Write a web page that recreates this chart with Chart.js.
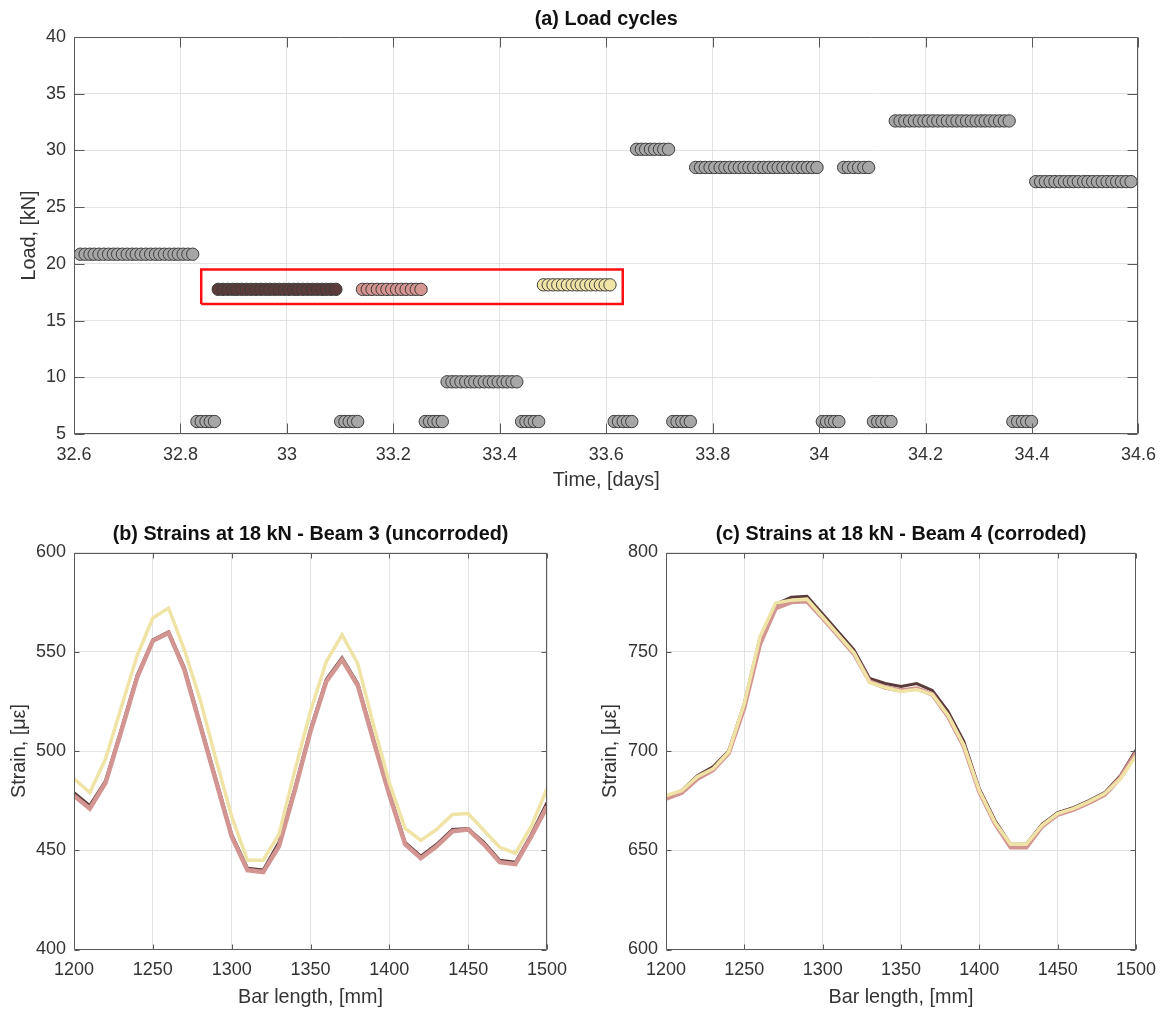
<!DOCTYPE html>
<html>
<head>
<meta charset="utf-8">
<script src="https://cdn.jsdelivr.net/npm/chart.js@4.4.0/dist/chart.umd.min.js"></script>
<style>
  body { margin: 0; background: #fff; }
  #wrap { position: relative; width: 1166px; height: 1009px; }
  canvas { position: absolute; }
</style>
</head>
<body>
<div id="wrap">
  <canvas id="cycles" width="1166" height="500" style="left:0;top:0"></canvas>
  <canvas id="beam3" width="583" height="509" style="left:0;top:500px"></canvas>
  <canvas id="beam4" width="583" height="509" style="left:583px;top:500px"></canvas>
</div>
<script>
// (a) load cycles, one time per marker
const cycleA = [32.871, 32.880, 32.889, 32.898, 32.906, 32.915, 32.924, 32.933, 32.942, 32.951, 32.960, 32.968, 32.977,
  32.986, 32.995, 33.004, 33.013, 33.021, 33.030, 33.039, 33.048, 33.057, 33.066, 33.074, 33.083, 33.092];
const cycleB = [33.142, 33.151, 33.160, 33.170, 33.179, 33.188, 33.197, 33.206, 33.215, 33.224, 33.234, 33.243, 33.252];
const cycleC = [33.482, 33.491, 33.500, 33.509, 33.518, 33.527, 33.536, 33.545, 33.553, 33.562, 33.571, 33.580, 33.589,
  33.598, 33.607];
const loadA = 17.75, loadB = 17.75, loadC = 18.15;

// other cycles (grey), one block per row
const otherTimes = [
  [32.612, 32.621, 32.630, 32.638, 32.647, 32.656, 32.665, 32.674, 32.682, 32.691, 32.700, 32.709, 32.717, 32.726,
   32.735, 32.744, 32.753, 32.761, 32.770, 32.779, 32.788, 32.796, 32.805, 32.814, 32.823],
  [32.831, 32.839, 32.848, 32.856, 32.864],
  [33.101, 33.109, 33.117, 33.125, 33.133],
  [33.260, 33.268, 33.276, 33.284, 33.292],
  [33.301, 33.310, 33.318, 33.327, 33.336, 33.345, 33.353, 33.362, 33.371, 33.380, 33.388, 33.397, 33.406, 33.414,
   33.423, 33.432],
  [33.441, 33.449, 33.457, 33.465, 33.473],
  [33.615, 33.623, 33.632, 33.640, 33.648],
  [33.657, 33.666, 33.674, 33.683, 33.691, 33.700, 33.708, 33.717],
  [33.725, 33.733, 33.742, 33.750, 33.758],
  [33.768, 33.777, 33.786, 33.795, 33.804, 33.814, 33.823, 33.832, 33.841, 33.850, 33.859, 33.868, 33.877, 33.887,
   33.896, 33.905, 33.914, 33.923, 33.932, 33.941, 33.950, 33.960, 33.969, 33.978, 33.987, 33.996],
  [34.006, 34.014, 34.022, 34.029, 34.037],
  [34.046, 34.055, 34.065, 34.074, 34.084, 34.093],
  [34.102, 34.110, 34.118, 34.127, 34.135],
  [34.143, 34.152, 34.161, 34.170, 34.179, 34.188, 34.197, 34.205, 34.214, 34.223, 34.232, 34.241, 34.250, 34.259,
   34.268, 34.277, 34.286, 34.295, 34.304, 34.312, 34.321, 34.330, 34.339, 34.348, 34.357],
  [34.364, 34.373, 34.382, 34.390, 34.399],
  [34.407, 34.416, 34.425, 34.434, 34.443, 34.452, 34.461, 34.470, 34.478, 34.487, 34.497, 34.505, 34.514, 34.523,
   34.532, 34.541, 34.550, 34.559, 34.568, 34.577, 34.586]
];
const otherLoads = [20.85, 6.1, 6.1, 6.1, 9.6, 6.1, 6.1, 30.1, 6.1, 28.5, 6.1, 28.5, 6.1, 32.6, 6.1, 27.25];

// red box round the three 18 kN blocks
const boxTime = [32.839, 33.631];
const boxLoad = [16.45, 19.5];

// (b), (c) strains along the bar
const barLength = [1200, 1210, 1220, 1230, 1240, 1250, 1260, 1270, 1280, 1290, 1300, 1310, 1320, 1330, 1340, 1350,
  1360, 1370, 1380, 1390, 1400, 1410, 1420, 1430, 1440, 1450, 1460, 1470, 1480, 1490, 1500];
const beam3A = [479, 472.5, 485, 511, 538, 556, 560, 542, 514, 486, 458, 441, 440, 454, 481, 511,
  536, 547, 534, 506, 479, 454, 447, 453, 460.5, 461, 454, 445, 444, 458, 474];
const beam3B = [477.5, 471, 484, 510, 537, 555.5, 559.5, 541, 513, 485, 457, 440, 439, 452, 480, 510,
  535, 546, 533, 505, 478, 453, 446, 452, 459.5, 460.5, 453, 444, 443, 457, 472];
const beam3C = [486, 479, 496, 522, 548, 567, 572, 551, 526, 496, 467, 445, 445, 458, 490, 520,
  545, 558.5, 544, 513, 484, 461, 455, 460.5, 468, 468.5, 460, 451.5, 448.5, 462, 481];
const beam4A = [677, 680, 687.5, 692, 700, 724, 757, 774, 777.5, 778, 769, 760, 751, 736.5, 734, 732.5,
  734, 730.5, 720, 705, 681, 665, 653, 653, 663, 669, 671.5, 675, 679, 687.5, 700.5];
const beam4B = [676, 679, 686, 690.5, 699, 722, 754, 772, 775, 775.5, 767, 758, 749, 735, 732, 730.5,
  731.5, 728.5, 717.5, 702.5, 679.5, 663.5, 651.5, 651.5, 662, 668, 670.5, 674, 678, 686.5, 699];
const beam4C = [677.5, 680, 687, 691, 699.5, 724, 757.5, 774.5, 776, 776.5, 767.5, 758.5, 749.5, 734.5, 732, 730,
  731, 728.5, 718, 703, 680, 664, 653, 653, 662.5, 668.5, 671, 674.5, 678.5, 686, 697.5];

const FONT = '"Liberation Sans", Arial, Helvetica, sans-serif';
Chart.defaults.font.family = FONT;
Chart.defaults.color = '#333';
Chart.defaults.animation = false;

const colA = '#5c3c3a', colB = '#d4948f', colC = '#efe4a6';

// matlab style box: frame on four sides, inward ticks, bold title
const axesBox = {
  id: 'axesBox',
  afterDraw(chart, args, opts) {
    const { ctx, chartArea: a, scales } = chart;
    const l = Math.round(a.left) + 0.5, r = Math.round(a.right) - 0.5;
    const t = Math.round(a.top) + 0.5, b = Math.round(a.bottom) - 0.5;
    const len = opts.tickLen;
    ctx.save();
    ctx.strokeStyle = '#595959';
    ctx.lineWidth = 1;
    ctx.beginPath();
    scales.x.ticks.forEach((tk) => {
      const px = Math.round(scales.x.getPixelForValue(tk.value)) + 0.5;
      ctx.moveTo(px, b); ctx.lineTo(px, b - len);
      ctx.moveTo(px, t); ctx.lineTo(px, t + len);
    });
    scales.y.ticks.forEach((tk) => {
      const py = Math.round(scales.y.getPixelForValue(tk.value)) + 0.5;
      ctx.moveTo(l, py); ctx.lineTo(l + len, py);
      ctx.moveTo(r, py); ctx.lineTo(r - len, py);
    });
    ctx.rect(l, t, r - l, b - t);
    ctx.stroke();
    ctx.fillStyle = '#111';
    ctx.font = 'bold 19.8px ' + FONT;
    ctx.textAlign = 'center';
    ctx.textBaseline = 'middle';
    ctx.fillText(opts.text, (a.left + a.right) / 2, opts.titleY);
    ctx.restore();
  }
};

const gridColor = '#e3e3e3';

function axis(min, max, step, fmt, titleText, titlePad, tickPad, size, horizontal) {
  return {
    type: 'linear', min, max,
    grid: { color: gridColor, drawTicks: false },
    border: { display: false },
    ticks: { stepSize: step, padding: tickPad, font: { size: 18 }, color: '#333', callback: fmt, maxRotation: 0 },
    title: { display: true, text: titleText, font: { size: 19.8 }, color: '#333', padding: titlePad },
    afterFit: (s) => { if (horizontal) s.height = size; else s.width = size; }
  };
}

// (a)
const cycleSets = [];
cycleSets.push({
  type: 'line',
  data: [
    { x: boxTime[0], y: boxLoad[0] }, { x: boxTime[0], y: boxLoad[1] }, { x: boxTime[1], y: boxLoad[1] },
    { x: boxTime[1], y: boxLoad[0] }, { x: boxTime[0], y: boxLoad[0] }
  ],
  borderColor: '#ff1010', borderWidth: 2.5, pointRadius: 0, tension: 0, fill: false
});
const marker = (times, load, fill) => ({
  data: times.map((t) => ({ x: t, y: load })),
  backgroundColor: fill, borderColor: '#3d3d3d', borderWidth: 1, pointRadius: 6.2, pointHoverRadius: 6.2
});
otherTimes.forEach((times, i) => cycleSets.push(marker(times, otherLoads[i], '#a6a6a6')));
cycleSets.push(marker(cycleA, loadA, colA));
cycleSets.push(marker(cycleB, loadB, colB));
cycleSets.push(marker(cycleC, loadC, colC));

new Chart(document.getElementById('cycles'), {
  type: 'scatter',
  data: { datasets: cycleSets },
  options: {
    responsive: false,
    layout: { padding: { left: 0, right: 25, top: 37, bottom: 0 } },
    plugins: { legend: { display: false }, tooltip: { enabled: false },
      axesBox: { text: '(a) Load cycles', titleY: 20, tickLen: 10 } },
    scales: {
      x: axis(32.6, 34.6, 0.2, (v) => String(Math.round(v * 10) / 10), 'Time, [days]',
        { top: 0, bottom: 8 }, 10, 66, true),
      y: axis(5, 40, 5, (v) => String(v), 'Load, [kN]', { top: 17.6, bottom: 0 }, 8, 74, false)
    }
  },
  plugins: [axesBox]
});

// (b), (c)
function strainChart(id, a, b, c, yMin, yMax, text, yWidth, yTitlePad, rightPad) {
  const line = (vals, color, width) => ({
    data: barLength.map((x, i) => ({ x, y: vals[i] })),
    borderColor: color, borderWidth: width, pointRadius: 0, tension: 0, fill: false
  });
  new Chart(document.getElementById(id), {
    type: 'line',
    data: { datasets: [line(c, colC, 3.5), line(b, '#d39591', 4.5), line(a, '#5a3b3a', 3)] },
    options: {
      responsive: false,
      layout: { padding: { left: 0, right: rightPad, top: 52.5, bottom: 0 } },
      plugins: { legend: { display: false }, tooltip: { enabled: false },
        axesBox: { text, titleY: 35, tickLen: 5 } },
      scales: {
        x: axis(1200, 1500, 50, (v) => String(v), 'Bar length, [mm]', { top: 0, bottom: 0 }, 10, 59.5, true),
        y: axis(yMin, yMax, 50, (v) => String(v), 'Strain, [\u03bc\u03b5]', { top: yTitlePad, bottom: 0 }, 8, yWidth, false)
      }
    },
    plugins: [axesBox]
  });
}

strainChart('beam3', beam3A, beam3B, beam3C, 400, 600, '(b) Strains at 18 kN - Beam 3 (uncorroded)', 74, 7.6, 36);
strainChart('beam4', beam4A, beam4B, beam4C, 600, 800, '(c) Strains at 18 kN - Beam 4 (corroded)', 83, 16.1, 26);
</script>
</body>
</html>
